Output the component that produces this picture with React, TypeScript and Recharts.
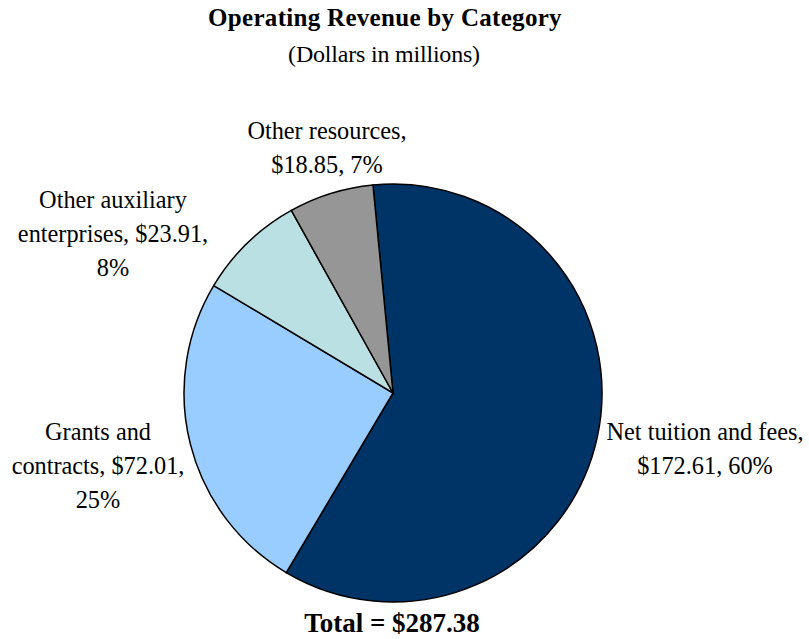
import React from 'react';
import { PieChart, Pie, Cell } from 'recharts';

// Operating revenue, dollars in millions
const categories = ['Net tuition and fees', 'Grants and contracts', 'Other auxiliary enterprises', 'Other resources'];
const revenue = [172.61, 72.01, 23.91, 18.85];
const sliceColors = ['#003366', '#99CCFF', '#BBE0E3', '#969696'];

const total = revenue.reduce((a, b) => a + b, 0);

const data = categories.map((name, i) => ({ name, value: revenue[i] }));

// where Excel put each data label (centre x, centre of first line y) and where it wraps
const labelLayout: Record<string, { x: number; y: number; wrap: number }> = {
    'Net tuition and fees': { x: 705, y: 432, wrap: 21 },
    'Grants and contracts': { x: 98, y: 432, wrap: 18 },
    'Other auxiliary enterprises': { x: 113, y: 200, wrap: 20 },
    'Other resources': { x: 327, y: 131, wrap: 16 },
};

const FONT = '"Liberation Serif", "Times New Roman", serif';
const LINE = 34;

const wrapText = (str: string, max: number) => {
    const words = str.split(' ');
    const lines: string[] = [];
    let cur = '';
    words.forEach((w) => {
        const next = cur ? cur + ' ' + w : w;
        if (next.length > max && cur) {
            lines.push(cur);
            cur = w;
        } else {
            cur = next;
        }
    });
    if (cur) lines.push(cur);
    return lines;
};

const renderLabel = (props: any) => {
    const { name, value } = props;
    const pos = labelLayout[name];
    if (!pos) return null;
    const pct = Math.round((value / total) * 100);
    const lines = wrapText(`${name}, $${value.toFixed(2)}, ${pct}%`, pos.wrap);
    return (
        <text
            x={pos.x}
            y={pos.y + 8}
            textAnchor="middle"
            fill="#000"
            fontFamily={FONT}
            fontSize={24.3}
        >
            {lines.map((l, i) => (
                <tspan key={i} x={pos.x} dy={i === 0 ? 0 : LINE}>
                    {l}
                </tspan>
            ))}
        </text>
    );
};

const App: React.FC = () => {
    return (
        <div style={{ position: 'absolute', left: 0, top: 0, width: 809, height: 639, background: '#fff', fontFamily: FONT }}>
            <div style={{ position: 'absolute', left: 0, top: 3, width: 770, textAlign: 'center', fontWeight: 'bold', fontSize: 25, letterSpacing: 0.3, lineHeight: '30px' }}>
                Operating Revenue by Category
            </div>
            <div style={{ position: 'absolute', left: 0, top: 39, width: 768, textAlign: 'center', fontSize: 24, letterSpacing: -0.2, lineHeight: '30px' }}>
                (Dollars in millions)
            </div>
            <PieChart width={809} height={639} margin={{ top: 0, right: 0, bottom: 0, left: 0 }}>
                <Pie
                    data={data}
                    dataKey="value"
                    nameKey="name"
                    cx={393}
                    cy={393}
                    outerRadius={209}
                    startAngle={95.5}
                    endAngle={95.5 - 360}
                    stroke="#000"
                    strokeWidth={1.5}
                    labelLine={false}
                    label={renderLabel}
                    isAnimationActive={false}
                >
                    {data.map((entry, index) => (
                        <Cell key={`cell-${index}`} fill={sliceColors[index]} />
                    ))}
                </Pie>
            </PieChart>
            <div style={{ position: 'absolute', left: 0, top: 608, width: 784, textAlign: 'center', fontWeight: 'bold', fontSize: 27, lineHeight: '30px' }}>
                Total = ${total.toFixed(2)}
            </div>
        </div>
    );
};

export default App;
